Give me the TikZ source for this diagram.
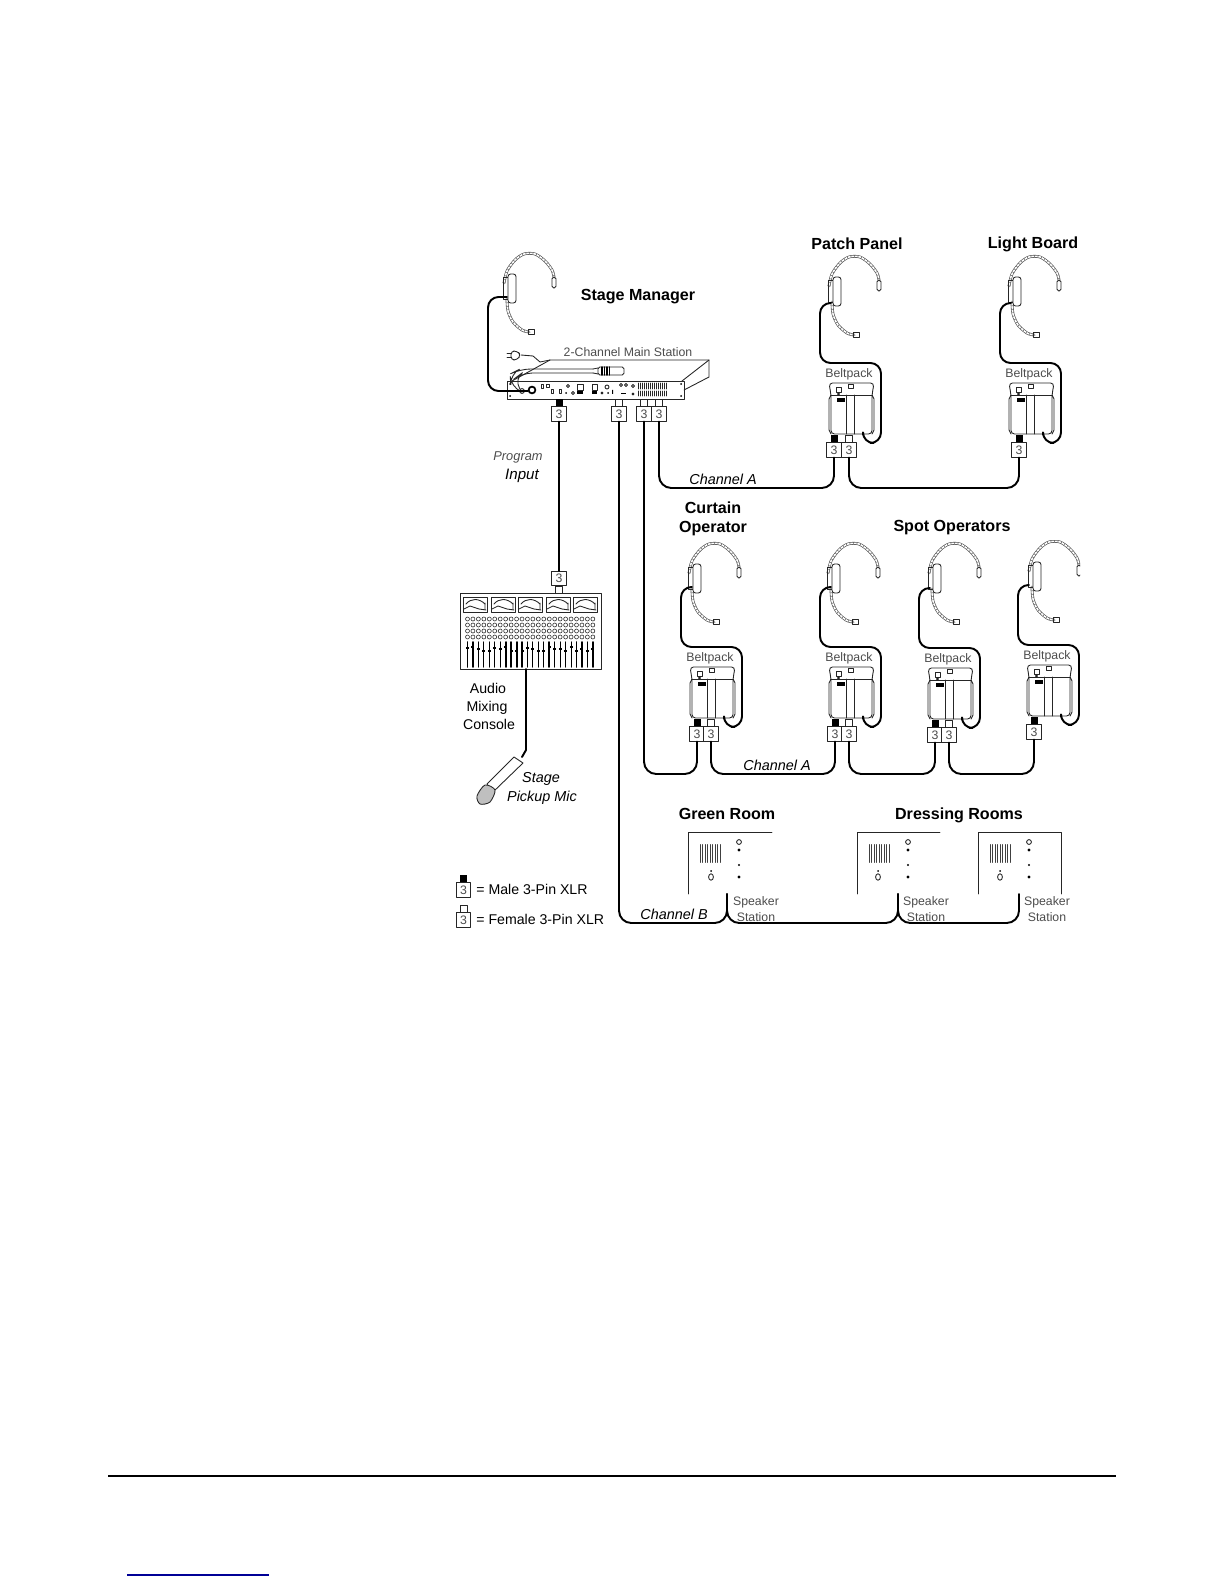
\documentclass[tikz,border=0pt]{standalone}
\usepackage{fontspec}
\setmainfont{Liberation Sans}
\usetikzlibrary{calc}

% one unit is one pixel of the page
\newcommand{\fs}[1]{\fontsize{#1}{#1}\selectfont}

\newcommand{\bandpath}[1]{%
\draw [band] plot[smooth] coordinates {#1};
\draw [beads] plot[smooth] coordinates {#1};}

\newcommand{\headset}[2]{%
\begin{scope}[shift={(#1,#2)}]
\bandpath{(-4,-4) (-1,-16) (7,-27) (16,-33) (27,-33) (37,-26) (44,-17) (46,-10)}
\bandpath{(-1,12) (0,24) (5,35) (14,43) (21,45)}
\draw [thinline,rounded corners=1pt] (44,-10) rectangle (48,1);
\draw [thinline] (-5,-10) rectangle (0,12);
\draw [thinline,fill=white,rounded corners=1.5pt] (0,-13) rectangle (8,16);
\draw [thinline] (20,42) rectangle (26,47);
\end{scope}}

\newcommand{\beltpack}[3]{%
\begin{scope}[shift={(#1,#2)}]
\node [smalllbl] (#3) at (20,-9) {Beltpack};
\draw [thinline,rounded corners=2pt] (0,0) -- (45,0) -- (43,12) -- (43,51) -- (2,51) -- (2,12) -- cycle;
\draw [thinline] (2,12) -- (43,12);
\draw [thinline] (17,12) -- (17,51);
\draw [thinline] (25,0) ++(0,12) -- (25,51);
\draw [thinline] (43,12) -- (45,16) -- (45,47) -- (43,51);
\draw [thinline] (2,12) -- (0,16) -- (0,47) -- (2,51);
\fill (8,15) rectangle (16,19);
\draw [thinline] (19,1) rectangle (24,5);
\draw [thinline] (7,4) rectangle (12,9);
\draw [thinline] (9.5,11) circle (1);
\draw [cable,rounded corners=6pt] (2,-80) -- (-9,-80) -- (-9,-20) -- (52,-20) -- (52,60) -- (34,60) -- (34,52);
\end{scope}}

\newcommand{\xlrm}[3]{%
\fill (#2-3.5,#3-15) rectangle (#2+3.5,#3-7);
\node [xlrbox] (#1) at (#2,#3) {3};}

\newcommand{\xlrf}[3]{%
\draw [thinline] (#2-3.5,#3-15) rectangle (#2+3.5,#3-7);
\node [xlrbox] (#1) at (#2,#3) {3};}

\newcommand{\spkstation}[3]{%
\begin{scope}[shift={(#1,832)}]
\foreach \k in {0,...,8} \draw [line width=.45pt,black!75] (#2+\k*2.5,12.5) -- (#2+\k*2.5,30.5);
\draw [thinline] (#3,45) ellipse (2.4 and 3.2);
\fill (#3,39) circle (1);
\draw [thinline] (51,10) circle (2.4);
\fill (51,18) circle (1.6);
\fill (51,33) circle (1.2);
\fill (51,45) circle (1.6);
\end{scope}}

\begin{document}
\begin{tikzpicture}[line cap=round,line join=round,x=0.02cm,y=-0.02cm,
  thinline/.style={line width=.5pt,black!85},
  band/.style={line width=.35pt,black!70,double=white,double distance=.9pt},
  beads/.style={line width=1.4pt,black!60,line cap=butt,dash pattern=on .3pt off 1.7pt},
  cable/.style={line width=1.1pt,black},
  wire/.style={cable,rounded corners=7pt},
  xlrbox/.style={draw=black!85,line width=.5pt,fill=white,minimum size=0.29cm,inner sep=0pt,text=black!70,font=\fs{7}},
  biglbl/.style={inner sep=0pt,font=\bfseries\fs{9.15},align=center},
  medlbl/.style={inner sep=0pt,font=\fs{8.05},align=center},
  itlbl/.style={inner sep=0pt,font=\itshape\fs{8.2},align=center},
  smalllbl/.style={inner sep=0pt,font=\fs{7},text=black!70,align=center}]
\useasboundingbox (0,0) rectangle (1224,1584);

% titles
\node [biglbl] (stagemgr) at (638,297) {Stage Manager};
\node [biglbl] (patchlbl) at (857,244) {Patch Panel};
\node [biglbl] (lightlbl) at (1033,244.5) {Light Board};
\node [biglbl] (curtainlbl) at (713,514) {\rule{0pt}{12pt}Curtain\\[-1pt]\rule{0pt}{11pt}Operator};
\node [biglbl] (spotlbl) at (952,528) {Spot Operators};
\node [biglbl] (greenlbl) at (727,814) {Green Room};
\node [biglbl] (dresslbl) at (959,815) {Dressing Rooms};

% main station
\node [smalllbl] (mainlbl) at (628,352) {2-Channel Main Station};
\draw [thinline] (512,381) -- (550,360) -- (709,360) -- (709,377) -- (684,390);
\draw [thinline] (709,360) -- (682,381);
\draw [thinline] (507,381) rectangle (684,399);
\draw [thinline] (507,353) -- (511,353) (507,357) -- (511,357);
\draw [thinline,rounded corners=2pt] (511,351) -- (517,351) -- (521,355) -- (517,360) -- (511,360) -- cycle;
\draw [thinline] (521,355) -- (533,356) -- (540,362) -- (550,360);
\draw [thinline,rounded corners=6pt] (593,369) -- (520,369) -- (510,374) -- (511,387) -- (522,392);
\draw [thinline,rounded corners=6pt] (593,373) -- (522,373) -- (514,379) -- (520,389);
\draw [thinline,fill=white,rounded corners=1pt] (598,367) rectangle (624,375);
\draw [thinline] (593,369) -- (598,368) (593,373) -- (598,374);
\foreach \k in {0,...,3} \draw [line width=.8pt] (602+\k*2.5,367) -- (602+\k*2.5,375);
\draw [line width=1pt] (532,390) circle (3.4);
\draw [thinline] (522,391) circle (2.4);
\fill (510,384) circle (1) (681,384) circle (1) (510,396) circle (1) (681,396) circle (1);
\draw [thinline] (541,384) rectangle (543,388) (546,384) rectangle (549,387);
\draw [thinline] (551,389) rectangle (553,393) (559,389) rectangle (561,393);
\draw [thinline] (568,386) circle (1.6) (573,393) circle (1.6);
\fill (566,393) circle (1);
\draw [thinline] (577,384) rectangle (583,390);
\fill (577,391) rectangle (583,394);
\draw [thinline] (592,384) rectangle (597,390);
\fill (592,391) rectangle (597,394);
\draw [thinline] (607,387) circle (2) (602,393) circle (1);
\fill (608,393) circle (1) (612,390) rectangle (613,394);
\draw [thinline] (621,385) circle (1.6) (626,385) circle (1.6) (633,386) circle (1.6);
\fill (621,393) rectangle (626,394.5);
\draw [thinline] (633,394) circle (1);
\foreach \k in {0,...,14} {
  \draw [thinline] (638+\k*2,383) -- (638+\k*2,389);
  \draw [thinline] (638+\k*2,391) -- (638+\k*2,396);}
\headset{508}{287}
\draw [cable,rounded corners=6pt] (507,297) -- (488,297) -- (488,391) -- (528,391);

\xlrm{mainprog}{559}{414}
\xlrf{mainb}{619}{414}
\xlrf{maina}{644}{414}
\xlrf{mainc}{659}{414}

% patch panel and light board
\headset{833}{290}
\headset{1013}{290}
\beltpack{829}{383}{beltpatch}
\beltpack{1009}{383}{beltlight}
\xlrm{patcha}{834}{450}
\xlrf{patchb}{849}{450}
\xlrm{lighta}{1019}{450}

\coordinate (railA) at (0,488);
\node [itlbl] (chanA) at (723,479) {Channel A};
\draw [wire] (mainc.south) -- (mainc.south |- railA) -- (patcha.south |- railA) -- (patcha.south);
\draw [wire] (patchb.south) -- (patchb.south |- railA) -- (lighta.south |- railA) -- (lighta.south);

% curtain and spot operators
\headset{693}{577}
\headset{832}{577}
\headset{933}{577}
\begin{scope}
\clip (1000,540) rectangle (1080,640);
\headset{1033}{575}
\end{scope}
\beltpack{690}{667}{beltcurtain}
\beltpack{829}{667}{beltspota}
\beltpack{928}{668}{beltspotb}
\begin{scope}
\clip (1000,560) rectangle (1080,760);
\beltpack{1027}{665}{beltspotc}
\end{scope}
\xlrm{curtaina}{697}{734}
\xlrf{curtainb}{711}{734}
\xlrm{spotaa}{835}{734}
\xlrf{spotab}{849}{734}
\xlrm{spotba}{935}{735}
\xlrf{spotbb}{949}{735}
\xlrm{spotca}{1034}{732}

\coordinate (railC) at (0,774);
\node [itlbl] (chanC) at (777,765.5) {Channel A};
\draw [wire] (maina.south) -- (maina.south |- railC) -- (curtaina.south |- railC) -- (curtaina.south);
\draw [wire] (curtainb.south) -- (curtainb.south |- railC) -- (spotaa.south |- railC) -- (spotaa.south);
\draw [wire] (spotab.south) -- (spotab.south |- railC) -- (spotba.south |- railC) -- (spotba.south);
\draw [wire] (spotbb.south) -- (spotbb.south |- railC) -- (spotca.south |- railC) -- (spotca.south);

% mixing console
\draw [thinline,fill=white] (460.5,593) rectangle (601.5,669);
\draw [thinline] (555,586) rectangle (562,593);
\node [xlrbox] (mixin) at (559,578.5) {3};
\draw [cable] (mainprog.south) -- (mixin.north);
\foreach \mx in {463,491,518,546,573} {
  \draw [thinline] (\mx,597) rectangle (\mx+24,612);
  \draw [thinline] (\mx+3,604) .. controls (\mx+8,598) and (\mx+16,598) .. (\mx+22,604);
  \draw [thinline] (\mx+22,609) -- (\mx+22,603) (\mx+1,609) -- (\mx+7,606) -- (\mx+16,609) -- (\mx+23,610);}
\foreach \i in {0,...,23} \foreach \ky in {619,625,631,637} \draw [line width=.35pt,black!80] (467.5+\i*5.45,\ky) circle (2);
\foreach \i/\c/\w in {0/647/1.1,1/646/1.1,2/648/.6,3/650/.6,4/650/.6,5/647/.6,6/648/.6,7/646/1.1,8/650/1.1,9/650/1.1,10/650/1.1,11/647/.6,12/648/.6,13/650/.6,14/650/.6,15/646/1.1,16/648/.6,17/648/.6,18/650/.6,19/646/.6,20/650/1.1,21/648/1.1,22/650/.6,23/648/1.1} {
  \draw [line width=\w pt] (467.5+\i*5.45,642) -- (467.5+\i*5.45,667);
  \fill (466+\i*5.45,\c) rectangle (469+\i*5.45,\c+1.8);}
\node [medlbl] (audiolbl) at (488,688) {Audio};
\node [medlbl] (mixinglbl) at (487,708) {Mixing};
\node [medlbl] (consolelbl) at (489,724) {Console};

% stage mic
\coordinate (micneck) at (522,757);
\draw [cable] (526,669) -- (526,750) -- (micneck);
\draw [thinline] (514,757) -- (523,763) -- (493,792) -- (487,784) -- cycle;
\draw [thinline,fill=black!25] plot[smooth cycle] coordinates {(485,785) (477,796) (480,804) (490,802) (495,790)};
\node [itlbl] (stagelbl) at (541,779) {Stage};
\node [itlbl] (pickuplbl) at (542,798) {Pickup Mic};
\node [inner sep=0pt,font=\itshape\fs{7.3},text=black!70] (proglbl) at (518,457) {Program};
\node [inner sep=0pt,font=\itshape\fs{8.6}] (inputlbl) at (522,476) {Input};

% speaker stations
\draw [thinline] (772,832) -- (688,832) -- (688,894);
\draw [thinline] (940,832) -- (857,832) -- (857,894);
\draw [thinline] (978,894) -- (978,832) -- (1061,832) -- (1061,894);
\spkstation{688}{12}{23}
\spkstation{857}{12}{21}
\spkstation{978}{12}{22}
\node [smalllbl] (spklbla) at (756,902) {Speaker};
\node [smalllbl] (stnlbla) at (756,917) {Station};
\node [smalllbl] (spklblb) at (926,902) {Speaker};
\node [smalllbl] (stnlblb) at (926,917) {Station};
\node [smalllbl] (spklblc) at (1047,902) {Speaker};
\node [smalllbl] (stnlblc) at (1047,917) {Station};

\coordinate (railB) at (0,923);
\coordinate (spka) at (727,894);
\coordinate (spkb) at (898,894);
\coordinate (spkc) at (1019,894);
\node [itlbl] (chanB) at (674,914.5) {Channel B};
\draw [wire] (mainb.south) -- (mainb.south |- railB) -- (spka |- railB) -- (spka);
\draw [wire] (spka) -- (spka |- railB) -- (spkb |- railB) -- (spkb);
\draw [wire] (spkb) -- (spkb |- railB) -- (spkc |- railB) -- (spkc);

% legend
\xlrm{legm}{463.5}{890}
\xlrf{legf}{463.5}{920}
\node [medlbl,anchor=west] (legmlbl) at (476,889) {= Male 3-Pin XLR};
\node [medlbl,anchor=west] (legflbl) at (476,919) {= Female 3-Pin XLR};

% page footer
\coordinate (footl) at (108,1476);
\coordinate (footr) at (1116,1476);
\draw [line width=1.1pt,line cap=butt] (footl) -- (footr);
\coordinate (linkl) at (127,1575);
\coordinate (linkr) at (269,1575);
\draw [line width=.6pt,line cap=butt,color={rgb,255:red,0;green,0;blue,150}] (linkl) -- (linkr);
\end{tikzpicture}
\end{document}
